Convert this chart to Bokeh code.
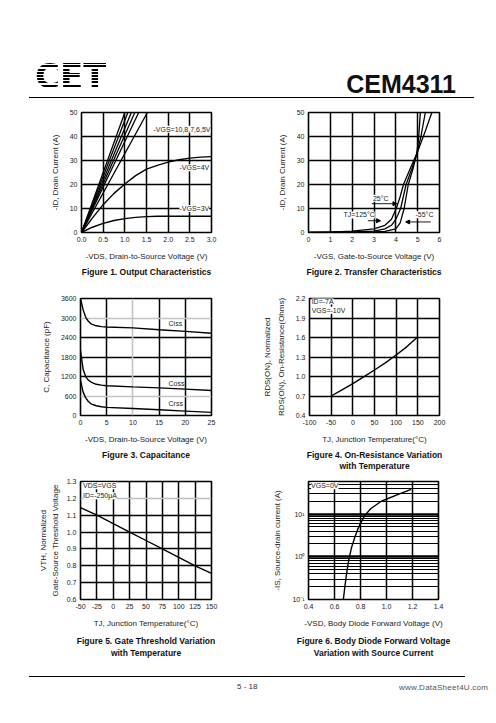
from bokeh.plotting import figure
from bokeh.models import (FixedTicker, Grid, Label, Title, Arrow, NormalHead, Div,
                          Range1d, NumeralTickFormatter)
from bokeh.layouts import column, row
from bokeh.embed import file_html
from bokeh.resources import INLINE

# ---------------- data ----------------
# Figure 1 : output characteristics
fig1_vgs_labels = ["-VGS=10,8,7,6,5V", "-VGS=4V", "-VGS=3V"]
fig1_lin_vds_at_50A = [1.00, 1.07, 1.15, 1.23, 1.32, 1.52]   # near-linear family reaches 50 A
fig1_lin_id = [0, 50]
fig1_vds = [0, 0.25, 0.5, 0.75, 1.0, 1.25, 1.5, 1.75, 2.0, 2.25, 2.5, 2.75, 3.0]
fig1_id_4v = [0, 6.0, 11.6, 16.3, 20.2, 23.7, 26.4, 28.0, 29.3, 30.3, 31.0, 31.4, 31.6]
fig1_id_3v = [0, 2.2, 3.8, 5.0, 5.8, 6.3, 6.6, 6.75, 6.8, 6.8, 6.8, 6.8, 6.8]
fig1_xticks = [0.0, 0.5, 1.0, 1.5, 2.0, 2.5, 3.0]
fig1_yticks = [0, 10, 20, 30, 40, 50]

# Figure 2 : transfer characteristics
fig2_vgs_125 = [0, 1, 2, 3, 3.5, 3.8, 4.02, 4.2, 4.35, 4.7, 4.97, 5.3, 5.65]
fig2_id_125 = [0, 0.15, 0.6, 1.5, 3.0, 5.5, 10, 15, 20, 27.5, 33, 41, 50]
fig2_vgs_25 = [0, 2, 3, 3.5, 3.8, 4.0, 4.1, 4.22, 4.47, 4.75, 4.97, 5.15, 5.35]
fig2_id_25 = [0, 0.2, 0.6, 1.5, 3.0, 5.5, 7.5, 10, 20, 27, 33, 40, 50]
fig2_vgs_m55 = [0, 3, 3.5, 4.0, 4.2, 4.38, 4.57, 4.8, 4.95, 5.03, 5.08, 5.12]
fig2_id_m55 = [0, 0.2, 0.5, 1.5, 4.0, 10, 20, 27, 32.5, 38, 44, 50]
fig2_temp_labels = ["TJ=125°C", "25°C", "-55°C"]
fig2_xticks = [0, 1, 2, 3, 4, 5, 6]
fig2_yticks = [0, 10, 20, 30, 40, 50]

# Figure 3 : capacitance
fig3_vds = [0, 0.5, 1, 1.5, 2, 3, 4, 5, 10, 15, 20, 25]
fig3_ciss = [3600, 3250, 3020, 2900, 2820, 2760, 2735, 2725, 2695, 2640, 2590, 2530]
fig3_coss = [2000, 1420, 1190, 1090, 1030, 960, 935, 915, 880, 850, 810, 770]
fig3_crss = [1080, 720, 540, 430, 360, 300, 270, 250, 215, 175, 135, 95]
fig3_labels = ["Ciss", "Coss", "Crss"]
fig3_xticks = [0, 5, 10, 15, 20, 25]
fig3_yticks = [0, 600, 1200, 1800, 2400, 3000, 3600]

# Figure 4 : on-resistance vs temperature
fig4_tj = [-50, -25, 0, 25, 50, 75, 100, 125, 150]
fig4_rds = [0.70, 0.795, 0.89, 0.995, 1.10, 1.21, 1.33, 1.46, 1.61]
fig4_notes = ["ID=-7A", "VGS=-10V"]
fig4_xticks = [-100, -50, 0, 50, 100, 150, 200]
fig4_xtick_labels = ["-100", "-50", "0", "50", "100", "150", "200"]
fig4_yticks = [0.4, 0.7, 1.0, 1.3, 1.6, 1.9, 2.2]

# Figure 5 : gate threshold vs temperature
fig5_tj = [-50, -25, 0, 25, 50, 75, 100, 125, 150]
fig5_vth = [1.145, 1.10, 1.05, 1.00, 0.95, 0.90, 0.85, 0.80, 0.755]
fig5_notes = ["VDS=VGS", "ID=-250μA"]
fig5_xticks = [-50, -25, 0, 25, 50, 75, 100, 125, 150]
fig5_xtick_labels = ["-50", "-25", "0", "25", "50", "75", "100", "125", "150"]
fig5_yticks = [0.6, 0.7, 0.8, 0.9, 1.0, 1.1, 1.2, 1.3]

# Figure 6 : body diode forward voltage
fig6_vsd = [0.668, 0.68, 0.69, 0.70, 0.71, 0.73, 0.755, 0.78, 0.805, 0.83, 0.88, 0.96, 1.09, 1.19]
fig6_is = [0.1, 0.2, 0.35, 0.55, 0.85, 1.6, 2.8, 4.5, 6.5, 9.0, 13.5, 20, 29, 38]
fig6_note = "VGS=0V"
fig6_xticks = [0.4, 0.6, 0.8, 1.0, 1.2, 1.4]
fig6_yticks = [0.1, 1, 10]
fig6_ytick_labels = ["10⁻¹", "10⁰", "10¹"]
fig6_yminor = [0.2, 0.3, 0.4, 0.5, 0.6, 0.7, 0.8, 0.9, 2, 3, 4, 5, 6, 7, 8, 9, 20, 30, 40, 50]

# ---------------- styling helpers ----------------
FONT = "Liberation Sans"
TXT = "#222222"


def make_fig(xr, yr, w, h, bl, br, bt, bb, xticks, yticks, y_type="linear"):
    p = figure(width=w, height=h, x_range=Range1d(*xr), y_range=Range1d(*yr),
               y_axis_type=y_type, output_backend="svg", toolbar_location=None,
               title=None, min_border_left=bl, min_border_right=br,
               min_border_top=bt, min_border_bottom=bb,
               background_fill_color="white", border_fill_color="white",
               outline_line_color="black", outline_line_width=1.6)
    p.xaxis.ticker = FixedTicker(ticks=xticks)
    p.yaxis.ticker = FixedTicker(ticks=yticks)
    for ax in p.axis:
        ax.major_tick_out = 0
        ax.major_tick_in = 0
        ax.minor_tick_out = 0
        ax.minor_tick_in = 0
        ax.axis_line_color = None
        ax.major_label_text_font = FONT
        ax.major_label_text_font_size = "7px"
        ax.major_label_text_color = TXT
        ax.major_label_standoff = 4
        ax.axis_label_text_font = FONT
        ax.axis_label_text_font_size = "8px"
        ax.axis_label_text_font_style = "normal"
        ax.axis_label_text_color = TXT
        ax.axis_label_standoff = 7
    p.xgrid.ticker = FixedTicker(ticks=xticks[1:-1])
    p.ygrid.ticker = FixedTicker(ticks=yticks[1:-1])
    for g in (p.xgrid[0], p.ygrid[0]):
        g.grid_line_color = "black"
        g.grid_line_width = 1.5
    p.margin = 0
    return p


def caption(p, lines, offset=0, first_standoff=3):
    for i, t in enumerate(lines):
        p.add_layout(Title(text=t, align="center", offset=offset,
                           text_font=FONT, text_font_size="8.5px",
                           text_font_style="bold", text_color="#111111",
                           standoff=(first_standoff if i == 0 else -6)), "below")


def note(p, x, y, text, bg="white", size="7px", align="left"):
    p.add_layout(Label(x=x, y=y, text=text, text_font=FONT, text_font_size=size,
                       text_color=TXT, text_baseline="middle", text_align=align,
                       background_fill_color=bg))


# ---------------- Figure 1 ----------------
f1 = make_fig((0, 3), (0, 50), 240, 185, 73, 37, 12, 53, fig1_xticks, fig1_yticks)
f1.xaxis.formatter = NumeralTickFormatter(format="0.0")
f1.xaxis.axis_label = "-VDS, Drain-to-Source Voltage (V)"
f1.yaxis.axis_label = "-ID, Drain Current (A)"
f1.multi_line(xs=[[0, v] for v in fig1_lin_vds_at_50A], ys=[fig1_lin_id] * len(fig1_lin_vds_at_50A),
              line_color="black", line_width=1.3)
f1.line(fig1_vds, fig1_id_4v, line_color="black", line_width=1.4)
f1.line(fig1_vds, fig1_id_3v, line_color="black", line_width=1.4)
note(f1, 1.66, 43, fig1_vgs_labels[0])
note(f1, 2.26, 27, fig1_vgs_labels[1])
note(f1, 2.26, 10, fig1_vgs_labels[2])
caption(f1, ["Figure 1. Output Characteristics"], offset=4)

# ---------------- Figure 2 ----------------
f2 = make_fig((0, 6), (0, 50), 240, 185, 60, 49, 12, 53, fig2_xticks, fig2_yticks)
f2.xaxis.axis_label = "-VGS, Gate-to-Source Voltage (V)"
f2.yaxis.axis_label = "-ID, Drain Current (A)"
f2.line(fig2_vgs_125, fig2_id_125, line_color="black", line_width=1.3)
f2.line(fig2_vgs_25, fig2_id_25, line_color="black", line_width=1.3)
f2.line(fig2_vgs_m55, fig2_id_m55, line_color="black", line_width=1.3)
note(f2, 1.6, 7.3, fig2_temp_labels[0])
note(f2, 2.95, 14.3, fig2_temp_labels[1])
note(f2, 4.9, 7.4, fig2_temp_labels[2])
for xs, xe, yy in [(2.72, 3.3, 4.9), (2.9, 4.05, 12.0), (5.6, 4.45, 4.4)]:
    f2.add_layout(Arrow(end=NormalHead(size=4, fill_color="black", line_color="black"),
                        x_start=xs, y_start=yy, x_end=xe, y_end=yy,
                        line_color="black", line_width=0.9))
caption(f2, ["Figure 2. Transfer Characteristics"])

# ---------------- Figure 3 ----------------
f3 = make_fig((0, 25), (0, 3600), 240, 187, 72, 37, 13, 57, fig3_xticks, fig3_yticks)
f3.xaxis.axis_label = "-VDS, Drain-to-Source Voltage (V)"
f3.yaxis.axis_label = "C, Capacitance (pF)"
f3.xgrid.ticker = FixedTicker(ticks=[5, 15, 20])
f3.ygrid.ticker = FixedTicker(ticks=[1200, 1800, 2400])
f3.add_layout(Grid(dimension=0, ticker=FixedTicker(ticks=[10]), grid_line_color="#c4c4c4", grid_line_width=1.6))
f3.add_layout(Grid(dimension=1, ticker=FixedTicker(ticks=[600, 3000]), grid_line_color="#c4c4c4", grid_line_width=1.6))
f3.line(fig3_vds, fig3_ciss, line_color="black", line_width=1.4)
f3.line(fig3_vds, fig3_coss, line_color="black", line_width=1.4)
f3.line(fig3_vds, fig3_crss, line_color="black", line_width=1.4)
note(f3, 16.8, 2820, fig3_labels[0], bg=None)
note(f3, 16.8, 1000, fig3_labels[1], bg=None)
note(f3, 16.8, 360, fig3_labels[2], bg=None)
caption(f3, ["Figure 3. Capacitance"], offset=3)

# ---------------- Figure 4 ----------------
f4 = make_fig((-100, 200), (0.4, 2.2), 240, 187, 61, 49, 13, 57, fig4_xticks, fig4_yticks)
f4.yaxis.formatter = NumeralTickFormatter(format="0.0")
f4.xaxis.major_label_overrides = {t: s for t, s in zip(fig4_xticks, fig4_xtick_labels)}
f4.xaxis.axis_label = "TJ, Junction Temperature(°C)"
f4.yaxis.axis_label = "RDS(ON), On-Resistance(Ohms)"
f4.add_layout(Title(text="RDS(ON), Normalized", align="center", text_font=FONT,
                    text_font_size="8px", text_font_style="normal", text_color=TXT,
                    standoff=3), "left")
f4.line(fig4_tj, fig4_rds, line_color="black", line_width=1.4)
note(f4, -95, 2.16, fig4_notes[0])
note(f4, -95, 2.02, fig4_notes[1])
caption(f4, ["Figure 4. On-Resistance Variation", "with Temperature"])

# ---------------- Figure 5 ----------------
f5 = make_fig((-50, 150), (0.6, 1.3), 240, 200, 72, 37, 9, 73, fig5_xticks, fig5_yticks)
f5.yaxis.formatter = NumeralTickFormatter(format="0.0")
f5.xaxis.major_label_overrides = {t: s for t, s in zip(fig5_xticks, fig5_xtick_labels)}
f5.xaxis.axis_label = "TJ, Junction Temperature(°C)"
f5.yaxis.axis_label = "Gate-Source Threshold Voltage"
f5.yaxis.axis_label_standoff = 4
f5.add_layout(Title(text="VTH, Normalized", align="center", text_font=FONT,
                    text_font_size="8px", text_font_style="normal", text_color=TXT,
                    standoff=0), "left")
f5.ygrid.ticker = FixedTicker(ticks=[0.7, 0.8, 0.9, 1.0, 1.1])
f5.add_layout(Grid(dimension=1, ticker=FixedTicker(ticks=[1.2]), grid_line_color="#bdbdbd", grid_line_width=1.6))
f5.line(fig5_tj, fig5_vth, line_color="black", line_width=1.4)
note(f5, -46, 1.275, fig5_notes[0])
note(f5, -46, 1.215, fig5_notes[1])
caption(f5, ["Figure 5. Gate Threshold Variation", "with Temperature"], first_standoff=6)

# ---------------- Figure 6 ----------------
f6 = make_fig((0.4, 1.4), (0.1, 58), 240, 200, 60, 50, 9, 73, fig6_xticks, fig6_yticks, y_type="log")
f6.xaxis.formatter = NumeralTickFormatter(format="0.0")
f6.yaxis.ticker = FixedTicker(ticks=fig6_yticks, minor_ticks=fig6_yminor)
f6.yaxis.major_label_overrides = {t: s for t, s in zip(fig6_yticks, fig6_ytick_labels)}
f6.ygrid.ticker = FixedTicker(ticks=fig6_yticks[1:], minor_ticks=fig6_yminor)
f6.ygrid.grid_line_width = 2.6
f6.ygrid.minor_grid_line_color = "black"
f6.ygrid.minor_grid_line_width = 1.0
f6.xaxis.axis_label = "-VSD, Body Diode Forward Voltage (V)"
f6.yaxis.axis_label = "-IS, Source-drain current (A)"
f6.line(fig6_vsd, fig6_is, line_color="black", line_width=1.4)
note(f6, 0.42, 46, fig6_note)
caption(f6, ["Figure 6. Body Diode Forward Voltage", "Variation with Source Current"], first_standoff=6)

# ---------------- header / footer ----------------
header = Div(width=480, height=92, margin=0, text=(
    '<div style="position:relative;width:480px;height:92px;">'
    '<div style="position:absolute;left:27px;top:51px;font-family:\'DejaVu Sans\';font-weight:bold;'
    'font-size:34px;line-height:34px;color:transparent;'
    'background:repeating-linear-gradient(to bottom,#000 0px,#000 2px,#fff 2px,#fff 3.2px);'
    '-webkit-background-clip:text;background-clip:text;">CET</div>'
    '<div style="position:absolute;right:32px;top:64px;font-family:\'Liberation Sans\';font-weight:bold;'
    'font-size:25px;line-height:25px;color:#111;">CEM4311</div>'
    '<div style="position:absolute;left:21px;top:89px;width:445px;height:0;border-top:1.5px solid #000;"></div>'
    '</div>'))

footer = Div(width=480, height=28, margin=0, text=(
    '<div style="position:relative;width:480px;height:28px;">'
    '<div style="position:absolute;left:21px;top:4px;width:436px;height:0;border-top:1.3px solid #000;"></div>'
    '<div style="position:absolute;left:229px;top:9px;font-family:\'Liberation Sans\';font-size:8px;color:#333;">5 - 18</div>'
    '<div style="position:absolute;left:391px;top:10px;font-family:\'Liberation Sans\';font-size:8px;'
    'letter-spacing:0.25px;color:#555;">www.DataSheet4U.com</div>'
    '</div>'))

layout = column(header, row(f1, f2, spacing=0), row(f3, f4, spacing=0), row(f5, f6, spacing=0),
                footer, spacing=0, margin=(8, 8, 8, 8))

open("out.html", "w").write(file_html(layout, INLINE))
